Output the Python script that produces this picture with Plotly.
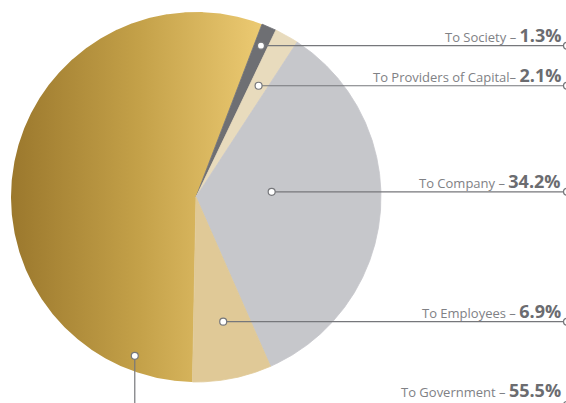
import numpy as np
import plotly.graph_objects as go

# Distribution of value added
labels = ["To Society", "To Providers of Capital", "To Company", "To Employees", "To Government"]
shares = [1.3, 2.1, 34.2, 6.9, 55.5]
separators = [" – ", "– ", " – ", " – ", " – "]

# Styling
slice_colors = ["#6e6f73", "#e8dbbd", "#c6c7cb", "#e0c997", None]
gold_scale = [[0.0, "#9b782d"], [0.5, "#c3a048"], [1.0, "#ecca72"]]
# where each leader dot sits: (fraction along slice, fraction of radius)
anchors = [(0.5, 0.89), (0.5, 0.69), (0.43, 0.41), (0.46, 0.69), (0.1, 0.92)]

W, H = 566, 403
SCALE = 185.0          # pixels per unit radius
CX_PX, CY_PX = 196, 197
START_DEG = 20.9       # clockwise from 12 o'clock

x_lo, x_hi = -CX_PX / SCALE, (W - CX_PX) / SCALE
y_lo, y_hi = -(H - CY_PX) / SCALE, CY_PX / SCALE
line_end = (567 - CX_PX) / SCALE
text_right = (563 - CX_PX) / SCALE
gov_floor = -(405 - CY_PX) / SCALE

LINE_COL = "#76777b"
edges = START_DEG + 3.6 * np.concatenate([[0], np.cumsum(shares)])

fig = go.Figure()


def wedge(a0, a1):
    t = np.radians(np.linspace(a0, a1, int((a1 - a0) * 3) + 2))
    return np.r_[0, np.sin(t), 0], np.r_[0, np.cos(t), 0]


# largest slice first, with horizontal gold gradient
order = [4, 0, 1, 2, 3]
for i in order:
    xs, ys = wedge(edges[i], edges[i + 1])
    if slice_colors[i] is None:
        fig.add_trace(go.Scatter(
            x=xs, y=ys, mode="lines", fill="toself",
            line=dict(width=0),
            fillgradient=dict(type="horizontal", colorscale=gold_scale),
            hoverinfo="skip"))
    else:
        fig.add_trace(go.Scatter(
            x=xs, y=ys, mode="lines", fill="toself",
            line=dict(width=0.8, color=slice_colors[i]),
            fillcolor=slice_colors[i], hoverinfo="skip"))

# leader lines, dots and labels
for i, (lab, v) in enumerate(zip(labels, shares)):
    frac, rf = anchors[i]
    ang = np.radians(edges[i] + frac * (edges[i + 1] - edges[i]))
    dx, dy = rf * np.sin(ang), rf * np.cos(ang)
    if i == 4:
        lx, ly = [dx, dx, line_end], [dy, gov_floor, gov_floor]
    else:
        lx, ly = [dx, line_end], [dy, dy]
    fig.add_trace(go.Scatter(x=lx, y=ly, mode="lines",
                             line=dict(color=LINE_COL, width=1.2), hoverinfo="skip"))
    fig.add_trace(go.Scatter(x=[dx, line_end], y=[dy, ly[-1]],
                             mode="markers",
                             marker=dict(size=7, color="white",
                                         line=dict(color=LINE_COL, width=1.2)),
                             hoverinfo="skip"))
    text = (f"{lab}{separators[i]}"
            f"<b><span style='font-size:18px;color:#6b6c70'>{v:.1f}%</span></b>")
    font = dict(family="Open Sans, Lato, sans-serif", size=13, color="#808185")
    if i == 4:
        fig.add_annotation(x=text_right, y=0, yref="paper", xanchor="right",
                           yanchor="bottom", showarrow=False, yshift=-1,
                           text=text, font=font)
    else:
        fig.add_annotation(x=text_right, y=dy, xanchor="right", yanchor="bottom",
                           showarrow=False, yshift=-3, text=text, font=font)

fig.update_layout(
    width=W, height=H, margin=dict(l=0, r=0, t=0, b=0),
    paper_bgcolor="white", plot_bgcolor="white", showlegend=False,
    xaxis=dict(range=[x_lo, x_hi], visible=False, fixedrange=True),
    yaxis=dict(range=[y_lo, y_hi], visible=False, fixedrange=True),
)

fig.write_html("out.html")
